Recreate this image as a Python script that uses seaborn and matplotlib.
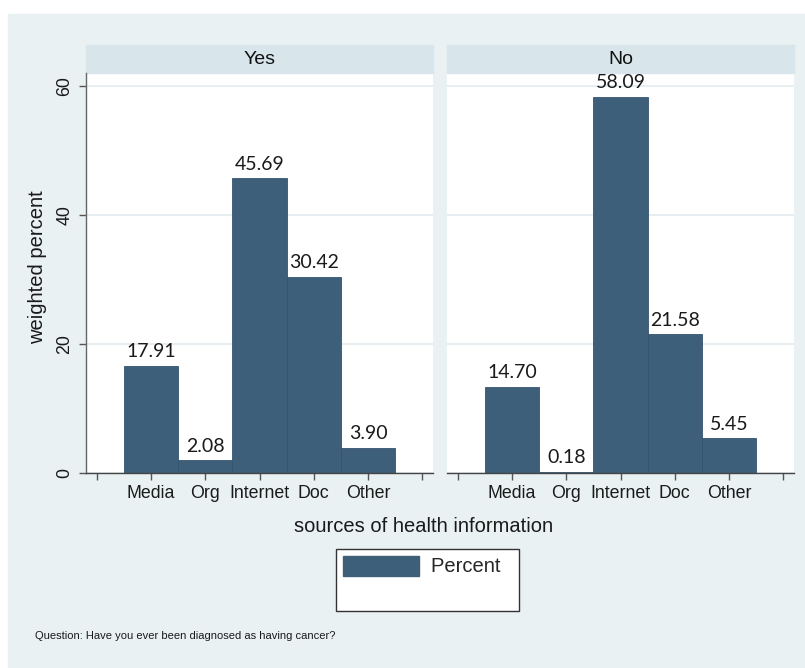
import matplotlib
matplotlib.use("Agg")
import matplotlib.pyplot as plt
from matplotlib.patches import Rectangle, Patch
import pandas as pd
import seaborn as sns

# data
sources = ["Media", "Org", "Internet", "Doc", "Other"]
panels = ["Yes", "No"]
yes_heights = [16.6, 2.0, 45.7, 30.4, 3.9]
no_heights = [13.4, 0.2, 58.3, 21.5, 5.4]
yes_labels = [17.91, 2.08, 45.69, 30.42, 3.90]
no_labels = [14.70, 0.18, 58.09, 21.58, 5.45]
y_ticks = [0, 20, 40, 60]

df = pd.DataFrame({
    "panel": ["Yes"] * 5 + ["No"] * 5,
    "source": sources * 2,
    "height": yes_heights + no_heights,
    "label": yes_labels + no_labels,
})

bar_color = "#3e5f7a"
outer_bg = "#e9f1f3"
strip_bg = "#d8e5eb"
grid_col = "#e5edf0"

sns.set_style("white")
plt.rcParams["font.family"] = ["Liberation Sans", "DejaVu Sans"]

W, H = 805, 668
fig = plt.figure(figsize=(W / 100, H / 100), dpi=100)
fig.patch.set_facecolor("white")
fig.patches.append(Rectangle((8 / W, 0), 1, (H - 14) / H, transform=fig.transFigure,
                             color=outer_bg, zorder=-10))


def px_box(x0, x1, y0, y1):
    return [x0 / W, 1 - y1 / H, (x1 - x0) / W, (y1 - y0) / H]


boxes = {"Yes": px_box(86, 433, 73, 473), "No": px_box(447, 794, 73, 473)}

for i, panel in enumerate(panels):
    ax = fig.add_axes(boxes[panel])
    sub = df[df["panel"] == panel]
    sns.barplot(data=sub, x="source", y="height", order=sources, color=bar_color,
                saturation=1, width=1.0, errorbar=None, edgecolor="#355470",
                linewidth=0.6, ax=ax)
    for j, (h, lab) in enumerate(zip(sub["height"], sub["label"])):
        ax.annotate(f"{lab:.2f}", (j, h), xytext=(0, 4), textcoords="offset points",
                    ha="center", va="bottom", fontsize=14, family=["Lato", "DejaVu Sans"],
                    color="#1a1a1a")

    ax.set_facecolor("white")
    ax.set_xlim(-1.2, 5.2)
    ax.set_ylim(0, 62)
    ax.set_xticks(range(-1, 6))
    ax.set_xticklabels([""] + sources + [""])
    ax.set_yticks(y_ticks)
    ax.set_xlabel("")
    ax.set_ylabel("")
    ax.yaxis.grid(True, color=grid_col, lw=1.3)
    ax.set_axisbelow(True)
    for s in ["top", "right"]:
        ax.spines[s].set_visible(False)
    ax.spines["bottom"].set_color("#444444")
    ax.spines["bottom"].set_linewidth(1.0)
    ax.tick_params(axis="x", direction="out", length=5, width=1, color="#555555",
                   labelsize=12.8, pad=4, labelcolor="#1a1a1a", bottom=True)
    if i == 0:
        ax.spines["left"].set_color("#666666")
        ax.spines["left"].set_linewidth(1.0)
        ax.tick_params(axis="y", direction="out", length=5, width=1, color="#555555",
                       labelsize=12.8, pad=4, labelcolor="#1a1a1a", left=True)
        for t in ax.get_yticklabels():
            t.set_rotation(90)
            t.set_va("center")
    else:
        ax.spines["left"].set_visible(False)
        ax.tick_params(axis="y", left=False, labelleft=False)

    ax.add_patch(Rectangle((0, 1.0), 1, 28 / 400, transform=ax.transAxes,
                           color=strip_bg, clip_on=False))
    ax.text(0.5, 1 + 14 / 400, panel, transform=ax.transAxes, ha="center", va="center",
            fontsize=14, color="#111111")

fig.text(38 / W, 1 - 267 / H, "weighted percent", rotation=90, ha="center", va="center",
         fontsize=14.5, color="#1a1a1a")
fig.text(424 / W, 1 - 527 / H, "sources of health information", ha="center", va="center",
         fontsize=14.5, color="#1a1a1a")

leg = fig.legend(handles=[Patch(color=bar_color), Patch(alpha=0)], labels=["Percent  ", ""],
                 loc="center", bbox_to_anchor=(427.5 / W, 1 - 580 / H), fontsize=14.5,
                 handlelength=3.8, handleheight=1.15, handletextpad=0.6,
                 borderpad=0.35, labelspacing=0.35, fancybox=False, framealpha=1)
leg.get_frame().set_edgecolor("#333333")
leg.get_frame().set_linewidth(1.0)

fig.text(35 / W, 1 - 636 / H, "Question: Have you ever been diagnosed as having cancer?",
         ha="left", va="center", fontsize=8.0, color="#1a1a1a")

fig.savefig("out.png", dpi=100)
